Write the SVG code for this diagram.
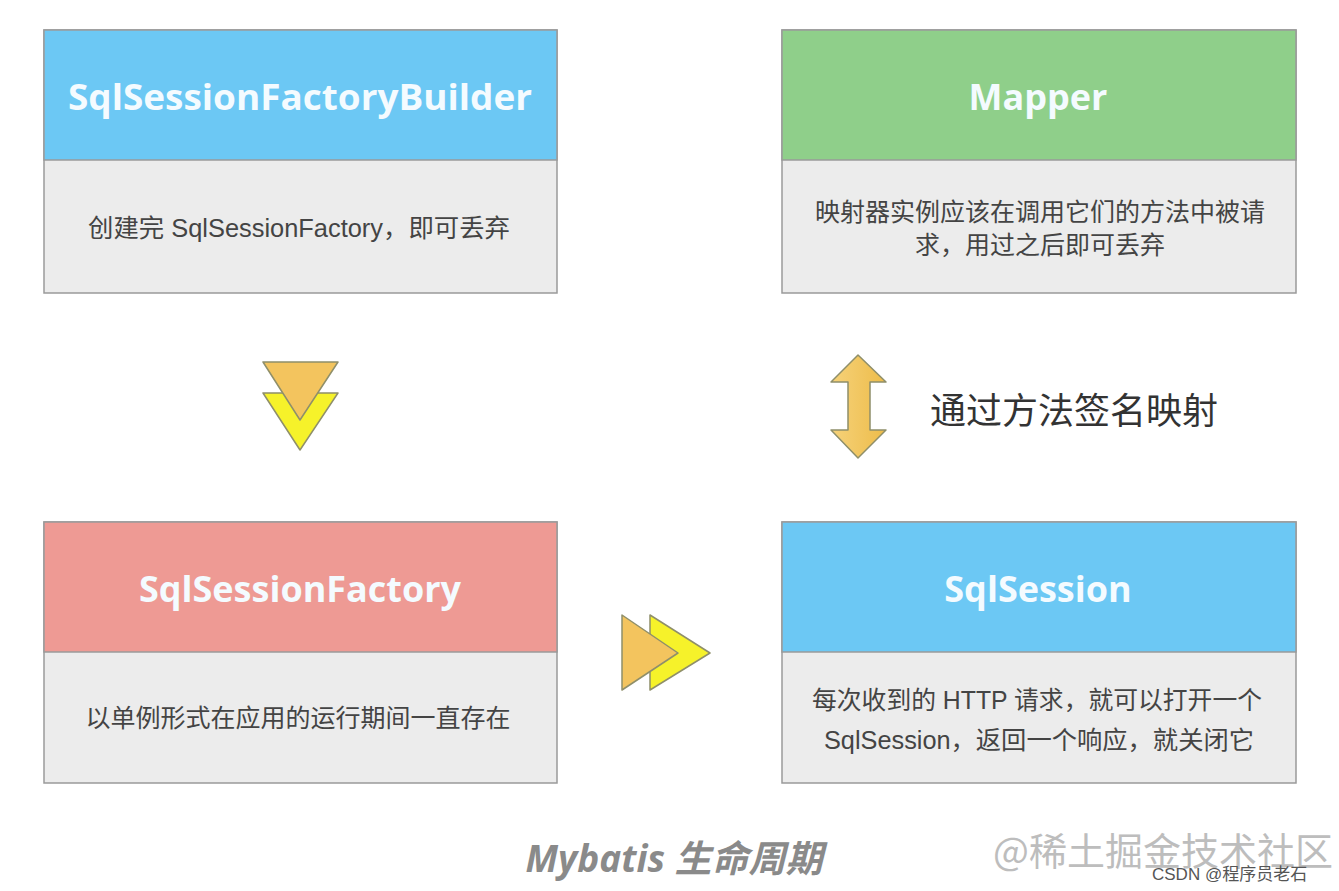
<svg xmlns="http://www.w3.org/2000/svg" width="1339" height="891" viewBox="0 0 1339 891">
<style>
.box{stroke:#9a9a9a;stroke-width:1.5}
.body{fill:#ececec}
.hd{font-family:"Open Sans","Liberation Sans",sans-serif;font-weight:bold;font-size:36px;fill:#f4fbff;text-anchor:middle}
.bt{font-family:"Liberation Sans","Noto Sans CJK SC",sans-serif;font-size:25px;fill:#444;text-anchor:middle}
.arr{stroke:#8f8f6a;stroke-width:1.5;stroke-linejoin:round}
</style>
<defs>
<linearGradient id="dg" x1="0" y1="0" x2="1" y2="0">
<stop offset="0" stop-color="#f6d27a"/><stop offset="1" stop-color="#edbc4a"/>
</linearGradient>
</defs>
<rect width="1339" height="891" fill="#ffffff"/>
<g id="builder">
<rect class="box body" x="44" y="30" width="513" height="263"/>
<rect class="box" x="44" y="30" width="513" height="130" fill="#6cc8f4"/>
<text class="hd" x="300" y="110" textLength="464" lengthAdjust="spacingAndGlyphs">SqlSessionFactoryBuilder</text>
<text class="bt" x="299" y="237" textLength="422" lengthAdjust="spacingAndGlyphs">创建完 SqlSessionFactory，即可丢弃</text>
</g>
<g id="mapper">
<rect class="box body" x="782" y="30" width="514" height="263"/>
<rect class="box" x="782" y="30" width="514" height="130" fill="#8fcf8a"/>
<text class="hd" x="1038" y="110">Mapper</text>
<text class="bt" x="1040" y="221">映射器实例应该在调用它们的方法中被请</text>
<text class="bt" x="1040" y="254">求，用过之后即可丢弃</text>
</g>
<g id="factory">
<rect class="box body" x="44" y="522" width="513" height="261"/>
<rect class="box" x="44" y="522" width="513" height="130" fill="#ee9a94"/>
<text class="hd" x="300" y="602">SqlSessionFactory</text>
<text class="bt" x="298" y="727">以单例形式在应用的运行期间一直存在</text>
</g>
<g id="session">
<rect class="box body" x="782" y="522" width="514" height="261"/>
<rect class="box" x="782" y="522" width="514" height="130" fill="#6cc8f4"/>
<text class="hd" x="1038" y="602">SqlSession</text>
<text class="bt" x="1037" y="709" textLength="450" lengthAdjust="spacingAndGlyphs">每次收到的 HTTP 请求，就可以打开一个</text>
<text class="bt" x="1039" y="749" textLength="430" lengthAdjust="spacingAndGlyphs">SqlSession，返回一个响应，就关闭它</text>
</g>
<g id="connectors">
<polygon class="arr" points="263,393 338,393 300,450" fill="#f6f22a"/>
<polygon class="arr" points="263,362 338,362 300,420" fill="#f3c45e"/>
<polygon class="arr" points="650,615 710,653 650,690" fill="#f6f22a"/>
<polygon class="arr" points="622,615 678,653 622,690" fill="#f3c45e"/>
<polygon class="arr" points="858,355 886,382 870,382 870,430 886,430 858,458 831,430 848,430 848,382 831,382" fill="url(#dg)" stroke="#b9b08a"/>
<text x="930" y="424" font-family="Noto Sans CJK SC,sans-serif" font-size="36" fill="#333">通过方法签名映射</text>
</g>
<text x="674" y="872" font-family="Open Sans,Liberation Sans,Noto Sans CJK SC,sans-serif" font-weight="bold" font-style="italic" font-size="37" fill="#8a8a8a" text-anchor="middle">Mybatis 生命周期</text>
<text x="993" y="865" font-family="Noto Sans CJK SC,sans-serif" font-size="38" fill="#bdbdbd">@稀土掘金技术社区</text>
<text x="1152" y="880" font-family="Liberation Sans,Noto Sans CJK SC,sans-serif" font-size="17" fill="#555">CSDN @程序员老石</text>
</svg>
